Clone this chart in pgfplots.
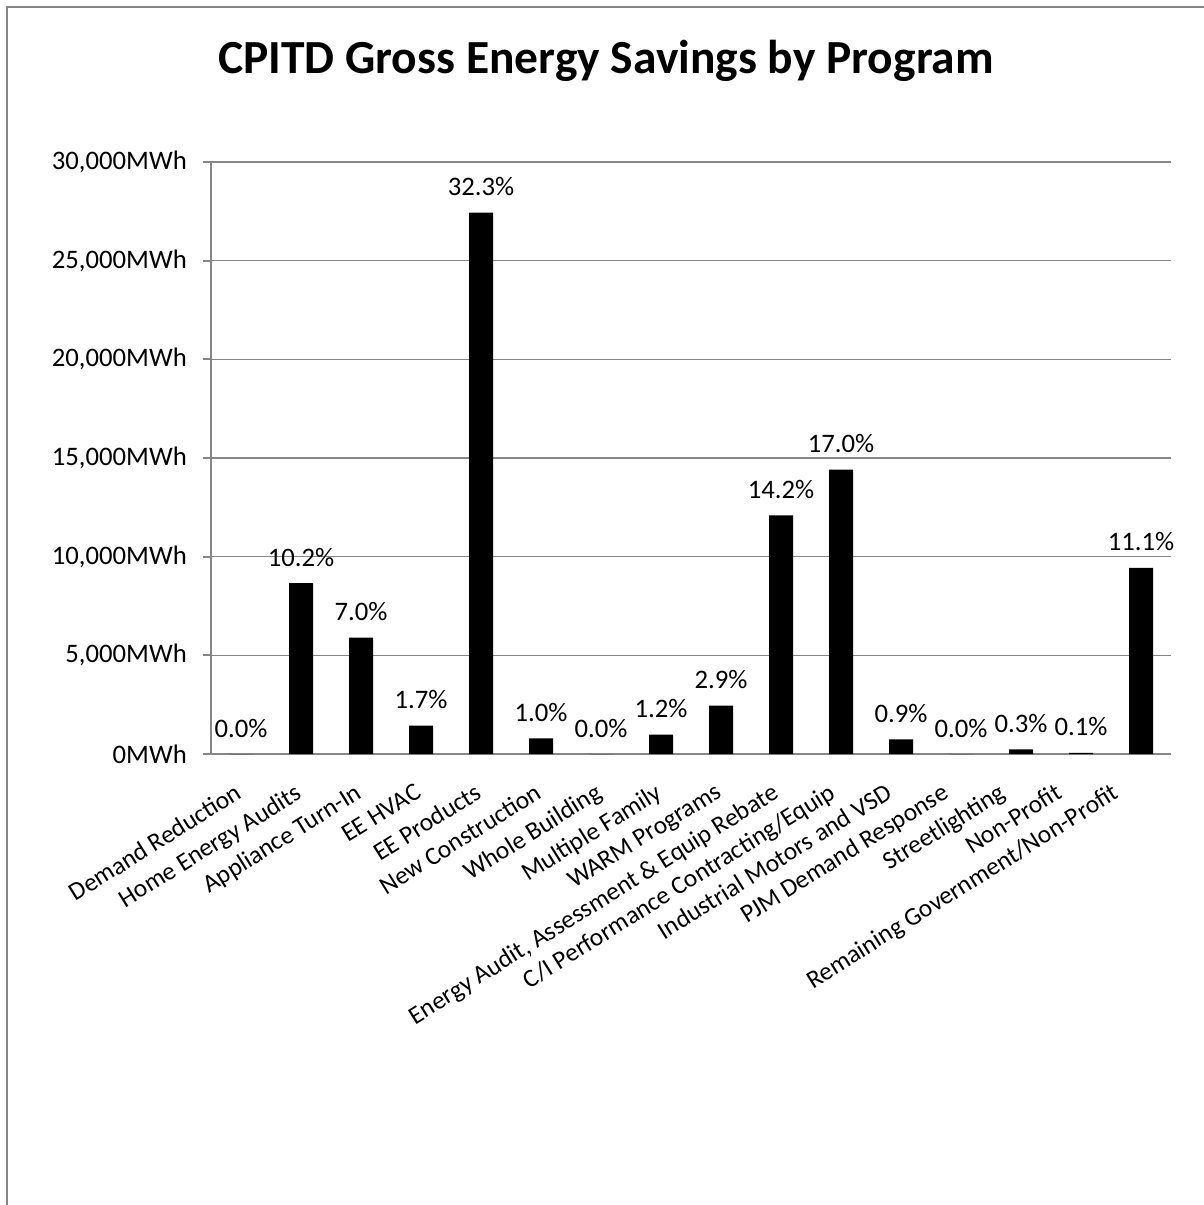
\documentclass[border=0pt]{standalone}
\usepackage{fontspec}
\setmainfont{Carlito}
\usepackage{pgfplots}
\pgfplotsset{compat=1.18}
\definecolor{axisgray}{HTML}{868686}

\begin{document}
\begin{tikzpicture}
\useasboundingbox (0,0) rectangle (1203pt,-1205pt);
% chart frame (only top and left edges are in view)
\draw[axisgray, line width=2pt] (7pt,-1210pt) -- (7pt,-7pt) -- (1210pt,-7pt);
\node[anchor=base, font=\fontsize{47.5}{56}\selectfont\bfseries] at (606pt,-73pt)
  {CPITD Gross Energy Savings by Program};
\begin{axis}[
  at={(211pt,-754pt)}, anchor=south west,
  scale only axis, width=960pt, height=592pt,
  ybar, bar width=24pt,
  xmin=-0.5, xmax=15.5, ymin=0, ymax=30000,
  scaled y ticks=false,
  axis x line*=bottom, axis y line*=left,
  axis line style={axisgray, line width=2pt},
  ymajorgrids, grid style={axisgray, line width=1.6pt},
  xtick={0,...,15},
  xticklabels={Demand Reduction, Home Energy Audits, Appliance Turn-In, EE HVAC,
    EE Products, New Construction, Whole Building, Multiple Family, WARM Programs,
    {Energy Audit, Assessment \& Equip Rebate}, C/I Performance Contracting/Equip,
    Industrial Motors and VSD, PJM Demand Response, Streetlighting, Non-Profit,
    Remaining Government/Non-Profit},
  major x tick style={draw=none},
  ytick={0,5000,10000,15000,20000,25000,30000},
  yticklabels={0MWh, {5,000MWh}, {10,000MWh}, {15,000MWh}, {20,000MWh},
    {25,000MWh}, {30,000MWh}},
  tick align=outside, major tick length=8pt,
  major y tick style={axisgray, line width=2pt},
  yticklabel style={font=\fontsize{26.7}{31}\selectfont,
    xshift=-16pt, anchor=east, inner sep=0pt},
  xticklabel style={font=\fontsize{25.4}{30}\selectfont,
    yshift=-20pt, xshift={-7pt-3.3pt*max(0,\ticknum-8)},
    rotate=32, anchor=north east, inner sep=0pt},
  nodes near coords, point meta=explicit symbolic,
  every node near coord/.append style={font=\fontsize{26.7}{31}\selectfont,
    anchor=base, inner sep=0pt, yshift=17pt, black},
  clip=false,
]
\addplot[fill=black, draw=none] coordinates {
  (0,0) [0.0\%]
  (1,8660) [10.2\%]
  (2,5900) [7.0\%]
  (3,1440) [1.7\%]
  (4,27440) [32.3\%]
  (5,790) [1.0\%]
  (6,0) [0.0\%]
  (7,980) [1.2\%]
  (8,2450) [2.9\%]
  (9,12090) [14.2\%]
  (10,14410) [17.0\%]
  (11,740) [0.9\%]
  (12,0) [0.0\%]
  (13,230) [0.3\%]
  (14,60) [0.1\%]
  (15,9430) [11.1\%]
};
\end{axis}
\end{tikzpicture}
\end{document}
